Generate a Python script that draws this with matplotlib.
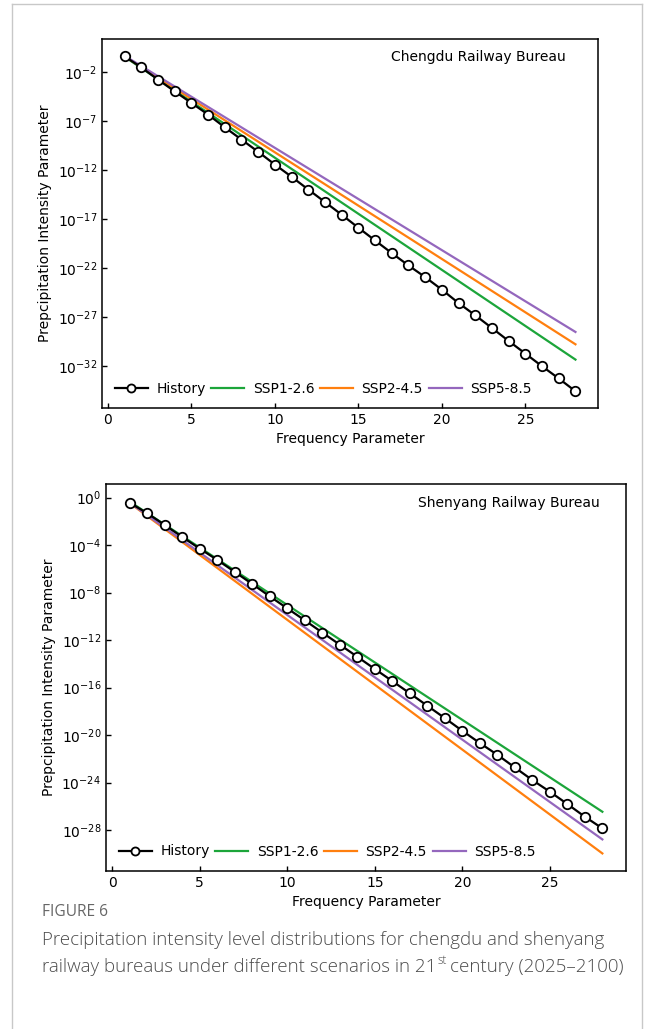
import numpy as np
import matplotlib
matplotlib.use('Agg')
import matplotlib.pyplot as plt
from matplotlib.lines import Line2D

# Frequency parameter (x) for the historical series
freq = list(range(1, 29))

# Chengdu: log10 of precipitation intensity parameter
cd_history_log = [-0.41, -1.53, -2.78, -3.98, -5.16, -6.35, -7.65, -8.90, -10.15, -11.45,
                  -12.70, -14.00, -15.28, -16.57, -17.90, -19.20, -20.49, -21.75, -22.94,
                  -24.22, -25.59, -26.84, -28.14, -29.46, -30.75, -32.04, -33.29, -34.59]
# scenario lines are straight on the log axis: values at x = 1 and x = 28
line_x = [1, 28]
cd_ssp126_log = [-0.45, -31.36]
cd_ssp245_log = [-0.40, -29.80]
cd_ssp585_log = [-0.35, -28.54]

# Shenyang
sy_history_log = [-0.42, -1.31, -2.30, -3.31, -4.29, -5.24, -6.25, -7.27, -8.31, -9.32,
                  -10.33, -11.36, -12.38, -13.40, -14.43, -15.45, -16.48, -17.53, -18.57,
                  -19.64, -20.67, -21.66, -22.73, -23.79, -24.77, -25.81, -26.88, -27.86]
sy_ssp126_log = [-0.33, -26.46]
sy_ssp245_log = [-0.45, -29.97]
sy_ssp585_log = [-0.42, -28.79]

cd_yticks = [-2, -7, -12, -17, -22, -27, -32]
sy_yticks = [0, -4, -8, -12, -16, -20, -24, -28]

green = '#1ca53a'
orange = '#ff7f0e'
purple = '#9467bd'

plt.rcParams['font.family'] = 'DejaVu Sans'

fig = plt.figure(figsize=(6.54, 10.29), dpi=100)


def draw_panel(ax, hist_log, ssp1, ssp2, ssp5, yticks, title, title_xy):
    ax.plot(freq, 10.0 ** np.array(hist_log), color='black', lw=1.6, marker='o',
            ms=6.8, mfc='white', mec='black', mew=1.3, label='History', zorder=3)
    ax.plot(line_x, 10.0 ** np.array(ssp1), color=green, lw=1.6, label='SSP1-2.6')
    ax.plot(line_x, 10.0 ** np.array(ssp2), color=orange, lw=1.6, label='SSP2-4.5')
    ax.plot(line_x, 10.0 ** np.array(ssp5), color=purple, lw=1.6, label='SSP5-8.5')
    ax.set_yscale('log')
    ax.set_yticks([10.0 ** t for t in yticks])
    ax.yaxis.set_minor_locator(matplotlib.ticker.NullLocator())
    ax.set_xticks([0, 5, 10, 15, 20, 25])
    ax.tick_params(direction='in', labelsize=10, length=3.5, width=1)
    for s in ax.spines.values():
        s.set_linewidth(1.1)
    ax.set_xlabel('Frequency Parameter', fontsize=10, labelpad=4)
    ax.set_ylabel('Prepcipitation Intensity Parameter', fontsize=10, labelpad=4)
    ax.text(title_xy[0], title_xy[1], title, transform=ax.transAxes, ha='right',
            va='center', fontsize=10)
    ax.legend(loc='lower left', ncol=4, frameon=False, fontsize=10,
              handlelength=2.4, columnspacing=0.4, handletextpad=0.6,
              borderaxespad=0.5, markerscale=0.85)


ax1 = fig.add_axes([102 / 654, 1 - 408 / 1029, 496 / 654, 369 / 1029])
draw_panel(ax1, cd_history_log, cd_ssp126_log, cd_ssp245_log, cd_ssp585_log,
           cd_yticks, 'Chengdu Railway Bureau', (0.935, 0.951))

ax2 = fig.add_axes([106 / 654, 1 - 871 / 1029, 520 / 654, 387 / 1029])
draw_panel(ax2, sy_history_log, sy_ssp126_log, sy_ssp245_log, sy_ssp585_log,
           sy_yticks, 'Shenyang Railway Bureau', (0.95, 0.951))

# light frame around the figure
frame_c = '#c8c8c8'
fig.add_artist(Line2D([12 / 654, 12 / 654], [0, 1 - 4 / 1029], color=frame_c, lw=1))
fig.add_artist(Line2D([642 / 654, 642 / 654], [0, 1 - 4 / 1029], color=frame_c, lw=1))
fig.add_artist(Line2D([12 / 654, 642 / 654], [1 - 4 / 1029, 1 - 4 / 1029], color=frame_c, lw=1))

# caption
cap_font = 'Open Sans'
cap_c = '#4c4c4c'
fig.text(42 / 654, 1 - 912 / 1029, 'FIGURE 6', family=cap_font, fontsize=11.2,
         color='#666666', va='center')
fig.text(42 / 654, 1 - 940 / 1029,
         'Precipitation intensity level distributions for chengdu and shenyang',
         family=cap_font, fontsize=13.5, color=cap_c, va='center', fontweight='light')
renderer = fig.canvas.get_renderer()
t1 = fig.text(42 / 654, 1 - 967 / 1029,
              'railway bureaus under different scenarios in 21',
              family=cap_font, fontsize=13.5, color=cap_c, va='center', fontweight='light')
bb = t1.get_window_extent(renderer)
x_fig = bb.x1 / fig.bbox.width
t2 = fig.text(x_fig + 1 / 654, 1 - 960 / 1029, 'st', family=cap_font, fontsize=8.5,
              color=cap_c, va='center', fontweight='light')
bb2 = t2.get_window_extent(renderer)
fig.text(bb2.x1 / fig.bbox.width + 3 / 654, 1 - 967 / 1029, 'century (2025\u20132100)',
         family=cap_font, fontsize=13.5, color=cap_c, va='center', fontweight='light')

fig.savefig('out.png', dpi=100)
